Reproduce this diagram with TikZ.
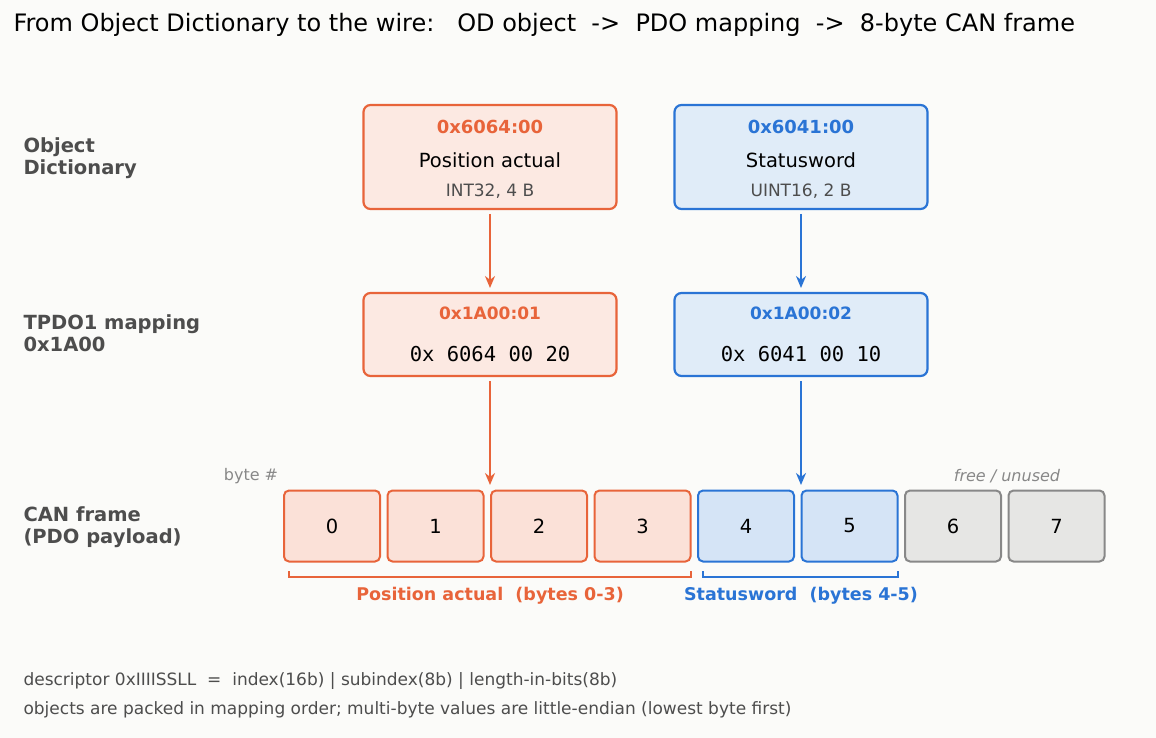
\documentclass[tikz,border=0pt]{standalone}
\usepackage{fontspec}
\setmainfont{DejaVu Sans}
\setmonofont{DejaVu Sans Mono}
\usetikzlibrary{arrows.meta}
\definecolor{bg}{HTML}{FBFBF9}
\definecolor{org}{HTML}{E8643A}
\definecolor{orgf}{HTML}{FCE9E2}
\definecolor{orgc}{HTML}{FBE1D8}
\definecolor{blu}{HTML}{2A74D5}
\definecolor{bluf}{HTML}{E0ECF8}
\definecolor{bluc}{HTML}{D5E4F6}
\definecolor{gr}{HTML}{888888}
\definecolor{grf}{HTML}{E6E6E4}
\definecolor{lab}{HTML}{4D4D4D}
\newcommand\fs[1]{\fontsize{#1}{#1}\selectfont}
\begin{document}
\begin{tikzpicture}[x=1pt,y=-1pt,
 box/.style={draw=#1,line width=2.2pt,rounded corners=7pt},
 cell/.style={draw=#1,line width=2pt,rounded corners=5pt,minimum width=96pt,minimum height=71pt,font=\fs{19.5}},
 side/.style={anchor=west,align=left,font=\bfseries\fontsize{19.5}{22}\selectfont,text=lab},
 arr/.style={-{Stealth[length=12pt,width=10pt]},line width=2.8pt,draw=#1},
 brk/.style={draw=#1,line width=2.2pt}]
\fill[bg] (0,0) rectangle (1156,738);
\useasboundingbox (0,0) rectangle (1156,738);
\node[anchor=west,font=\fs{24}] (title) at (10,25) {From Object Dictionary to the wire:\ \ \ OD object\ \ ->\ \ PDO mapping\ \ ->\ \ 8-byte CAN frame};
\node[side] (l1) at (20,158) {Object\\Dictionary};
\node[side] (l2) at (20,333) {TPDO1 mapping\\0x1A00};
\node[side] (l3) at (20,527) {CAN frame\\(PDO payload)};
\node[box=org,fill=orgf,minimum width=253pt,minimum height=104pt] (od1) at (490,157) {};
\node[box=blu,fill=bluf,minimum width=253pt,minimum height=104pt] (od2) at (801,157) {};
\node[text=org,font=\bfseries\fs{18}] (t1a) at (490,127) {0x6064:00};
\node[font=\fs{19.5}] (t1b) at (490,160) {Position actual};
\node[text=lab,font=\fs{17}] (t1c) at (490,191) {INT32, 4 B};
\node[text=blu,font=\bfseries\fs{18}] (t2a) at (801,127) {0x6041:00};
\node[font=\fs{19.5}] (t2b) at (801,160) {Statusword};
\node[text=lab,font=\fs{17}] (t2c) at (801,191) {UINT16, 2 B};
\node[box=org,fill=orgf,minimum width=253pt,minimum height=83pt] (m1) at (490,334.5) {};
\node[box=blu,fill=bluf,minimum width=253pt,minimum height=83pt] (m2) at (801,334.5) {};
\node[text=org,font=\bfseries\fs{17}] (m1a) at (490,313) {0x1A00:01};
\node[font=\ttfamily\fs{20.5}] (m1b) at (490,354) {0x 6064 00 20};
\node[text=blu,font=\bfseries\fs{17}] (m2a) at (801,313) {0x1A00:02};
\node[font=\ttfamily\fs{20.5}] (m2b) at (801,354) {0x 6041 00 10};
\foreach \i/\c/\f in {0/org/orgc,1/org/orgc,2/org/orgc,3/org/orgc,4/blu/bluc,5/blu/bluc,6/gr/grf,7/gr/grf}
  \node[cell=\c,fill=\f] (c\i) at ({332+103.5*\i},526) {\i};
\coordinate (a1s) at (490,214); \coordinate (a1e) at (490,288);
\coordinate (a2s) at (801,214); \coordinate (a2e) at (801,288);
\coordinate (a3s) at (490,381); \coordinate (a3e) at (490,485);
\coordinate (a4s) at (801,381); \coordinate (a4e) at (801,485);
\draw[arr=org] (a1s) -- (a1e);
\draw[arr=blu] (a2s) -- (a2e);
\draw[arr=org] (a3s) -- (a3e);
\draw[arr=blu] (a4s) -- (a4e);
\node[text=gr,font=\fs{16}] (bn) at (251,476) {byte \#};
\node[text=gr,font=\itshape\fs{16}] (fu) at (1007,476) {free / unused};
\draw[brk=org] (289,571) -- (289,577) -- (691,577) -- (691,571);
\draw[brk=blu] (703,571) -- (703,577) -- (898,577) -- (898,571);
\node[text=org,font=\bfseries\fs{17.5}] (bl1) at (490,596) {Position actual\ \ (bytes 0-3)};
\node[text=blu,font=\bfseries\fs{17.5}] (bl2) at (801,596) {Statusword\ \ (bytes 4-5)};
\node[anchor=west,text=lab,font=\fs{17}] (f1) at (20,681) {descriptor 0xIIIISSLL\ \ =\ \ index(16b) | subindex(8b) | length-in-bits(8b)};
\node[anchor=west,text=lab,font=\fs{17}] (f2) at (20,710) {objects are packed in mapping order; multi-byte values are little-endian (lowest byte first)};
\end{tikzpicture}
\end{document}
